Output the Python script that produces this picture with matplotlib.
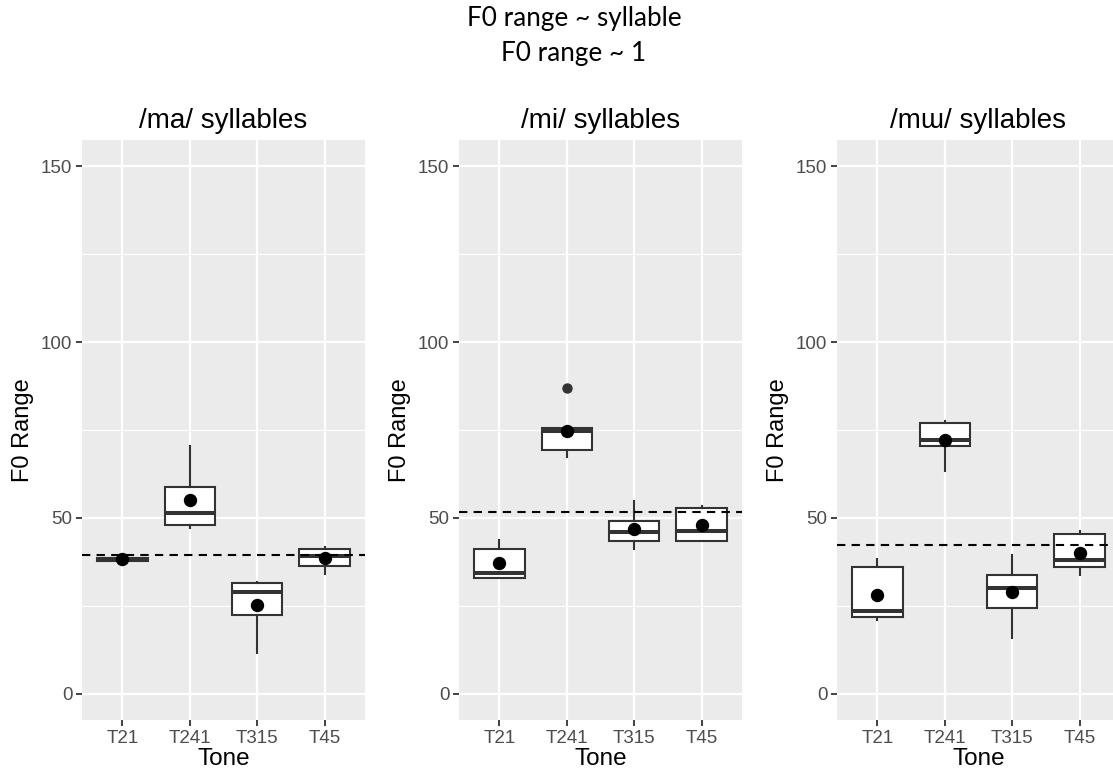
import matplotlib
matplotlib.use("Agg")
import matplotlib.pyplot as plt
from matplotlib.ticker import MultipleLocator

tones = ["T21", "T241", "T315", "T45"]
panel_titles = ["/ma/ syllables", "/mi/ syllables", "/mɯ/ syllables"]

# per-panel box statistics (whisker low, q1, median, q3, whisker high), means, fliers, overall mean
ma_whislo = [37.6, 47.1, 11.6, 34.0]
ma_q1 = [37.8, 48.0, 22.3, 36.4]
ma_med = [38.2, 51.4, 28.8, 39.2]
ma_q3 = [38.7, 58.8, 31.5, 41.1]
ma_whishi = [39.0, 70.4, 31.9, 41.6]
ma_mean = [38.4, 55.1, 25.1, 38.5]
ma_fliers = [[], [], [], []]
ma_overall = 39.3

mi_whislo = [33.0, 67.2, 41.1, 43.4]
mi_q1 = [33.0, 69.2, 43.3, 43.4]
mi_med = [34.4, 74.7, 45.9, 46.4]
mi_q3 = [41.1, 75.6, 49.0, 52.9]
mi_whishi = [43.7, 75.6, 54.7, 53.3]
mi_mean = [37.1, 74.7, 46.9, 47.9]
mi_fliers = [[], [86.9], [], []]
mi_overall = 51.7

mu_whislo = [20.9, 63.3, 15.7, 33.8]
mu_q1 = [21.8, 70.4, 24.5, 35.9]
mu_med = [23.5, 72.1, 30.0, 38.1]
mu_q3 = [35.9, 77.1, 33.7, 45.4]
mu_whishi = [38.3, 77.6, 39.5, 46.2]
mu_mean = [28.0, 72.2, 28.8, 40.0]
mu_fliers = [[], [], [], []]
mu_overall = 42.3

panels = [
    (ma_whislo, ma_q1, ma_med, ma_q3, ma_whishi, ma_mean, ma_fliers, ma_overall),
    (mi_whislo, mi_q1, mi_med, mi_q3, mi_whishi, mi_mean, mi_fliers, mi_overall),
    (mu_whislo, mu_q1, mu_med, mu_q3, mu_whishi, mu_mean, mu_fliers, mu_overall),
]

W, H = 1113, 778
fig = plt.figure(figsize=(W / 100, H / 100), dpi=100)
fig.patch.set_facecolor("white")

lefts = [82, 459, 837]
pw, top, bottom = 283, 140, 720

fig.text(574 / W, 1 - 18.5 / H, "F0 range ~ syllable", ha="center", va="center",
         fontsize=18.8, family="Lato", color="black")
fig.text(574 / W, 1 - 53.5 / H, "F0 range ~ 1", ha="center", va="center",
         fontsize=18.8, family="Lato", color="black")

for i, (lo, q1, med, q3, hi, mn, fl, ov) in enumerate(panels):
    ax = fig.add_axes([lefts[i] / W, 1 - bottom / H, pw / W, (bottom - top) / H])
    ax.set_facecolor("#EBEBEB")
    stats = []
    for k in range(len(tones)):
        stats.append(dict(whislo=lo[k], q1=q1[k], med=med[k], q3=q3[k],
                          whishi=hi[k], fliers=fl[k], label=tones[k]))
    pos = list(range(1, len(tones) + 1))
    ax.bxp(stats, positions=pos, widths=0.75, patch_artist=True, showcaps=False,
           boxprops=dict(facecolor="white", edgecolor="#333333", linewidth=1.5),
           whiskerprops=dict(color="#333333", linewidth=1.5),
           medianprops=dict(color="#333333", linewidth=2.9, solid_capstyle="butt"),
           flierprops=dict(marker="o", markerfacecolor="#333333", markeredgecolor="#333333",
                           markersize=6.5, linestyle="none"),
           zorder=3)
    ax.plot(pos, mn, "o", color="black", markersize=8.6, zorder=5)
    ax.axhline(ov, color="black", linestyle=(0, (4, 3)), linewidth=1.5, zorder=4)

    ax.set_xlim(0.4, 4.6)
    ax.set_ylim(-7.5, 157.5)
    ax.yaxis.set_major_locator(MultipleLocator(50))
    ax.yaxis.set_minor_locator(MultipleLocator(25))
    ax.set_xticks(pos)
    ax.set_xticklabels(tones)
    ax.grid(which="major", color="white", linewidth=1.6, zorder=0)
    ax.grid(which="minor", axis="y", color="white", linewidth=0.8, zorder=0)
    ax.set_axisbelow(True)
    for s in ax.spines.values():
        s.set_visible(False)
    ax.tick_params(axis="both", which="major", length=4, width=1.3, color="#333333",
                   labelcolor="#4D4D4D", labelsize=13.5, pad=3)
    ax.tick_params(axis="y", which="minor", length=0)
    for lab in ax.get_xticklabels() + ax.get_yticklabels():
        lab.set_family("Liberation Sans")
    ax.set_xlabel("Tone", fontsize=17.5, family="Liberation Sans", color="black", labelpad=1)
    ax.set_ylabel("F0 Range", fontsize=17, family="Liberation Sans", color="black", labelpad=5)
    ax.set_title(panel_titles[i], fontsize=20, family="Liberation Sans", color="black", pad=9)

fig.savefig("out.png", dpi=100)
